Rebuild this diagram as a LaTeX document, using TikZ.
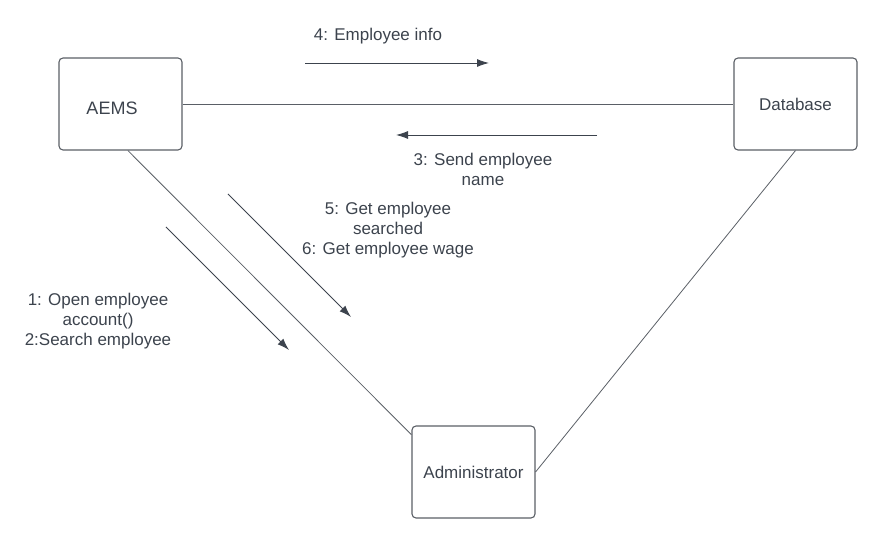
\documentclass[tikz,border=0pt]{standalone}
\usepackage{fontspec}
\setmainfont{Liberation Sans}
\usetikzlibrary{arrows.meta}

\definecolor{inkgray}{HTML}{3C434D}
\definecolor{linegray}{HTML}{5A5F66}

\tikzset{
  obj/.style={draw=linegray, line width=1.1pt, rounded corners=4pt,
    minimum width=123pt, minimum height=92pt, inner sep=0pt,
    text=inkgray, font=\fontsize{17}{20}\selectfont},
  link/.style={draw=linegray, line width=0.8pt},
  msg/.style={draw=inkgray, line width=0.9pt, -{Latex[length=12pt,width=8pt]}},
  lbl/.style={text=inkgray, align=center, inner sep=0pt,
    font=\fontsize{17}{20}\selectfont}
}

\begin{document}
\begin{tikzpicture}[x=1pt, y=-1pt]
      \useasboundingbox (0,0) rectangle (887,545);

      \node (aems) at (120.5,104) [obj] {};
      \node at (112,108) [lbl, font=\fontsize{18}{20}\selectfont] {AEMS};

      \node (database) at (795.5,104) [obj] {Database};

      \node (admin) at (473.5,472) [obj] {Administrator};

      % links between the objects
      \draw[link] (aems.east) -- (database.west);
      \draw[link] (aems.-81) -- (admin.149);
      \draw[link] (database.south) -- (admin.east);

      % message arrows
      \coordinate (infoA) at (305,63);
      \coordinate (infoB) at (489,63);
      \coordinate (sendA) at (597,135);
      \coordinate (sendB) at (396,135);
      \coordinate (getA) at (228,194);
      \coordinate (getB) at (351,317);
      \coordinate (openA) at (166,227);
      \coordinate (openB) at (289,350);

      \draw[msg] (infoA) -- (infoB);
      \draw[msg] (sendA) -- (sendB);
      \draw[msg] (getA) -- (getB);
      \draw[msg] (openA) -- (openB);

      % message labels
      \node (infolbl) at (378,36) [lbl] {4: Employee info};
      \node (sendlbl) at (483,169) [lbl] {3: Send employee\\name};
      \node (getlbl) at (388,230) [lbl] {5: Get employee\\searched\\6: Get employee wage};
      \node (openlbl) at (98,321) [lbl] {1: Open employee\\account()\\2:Search employee};
\end{tikzpicture}
\end{document}
